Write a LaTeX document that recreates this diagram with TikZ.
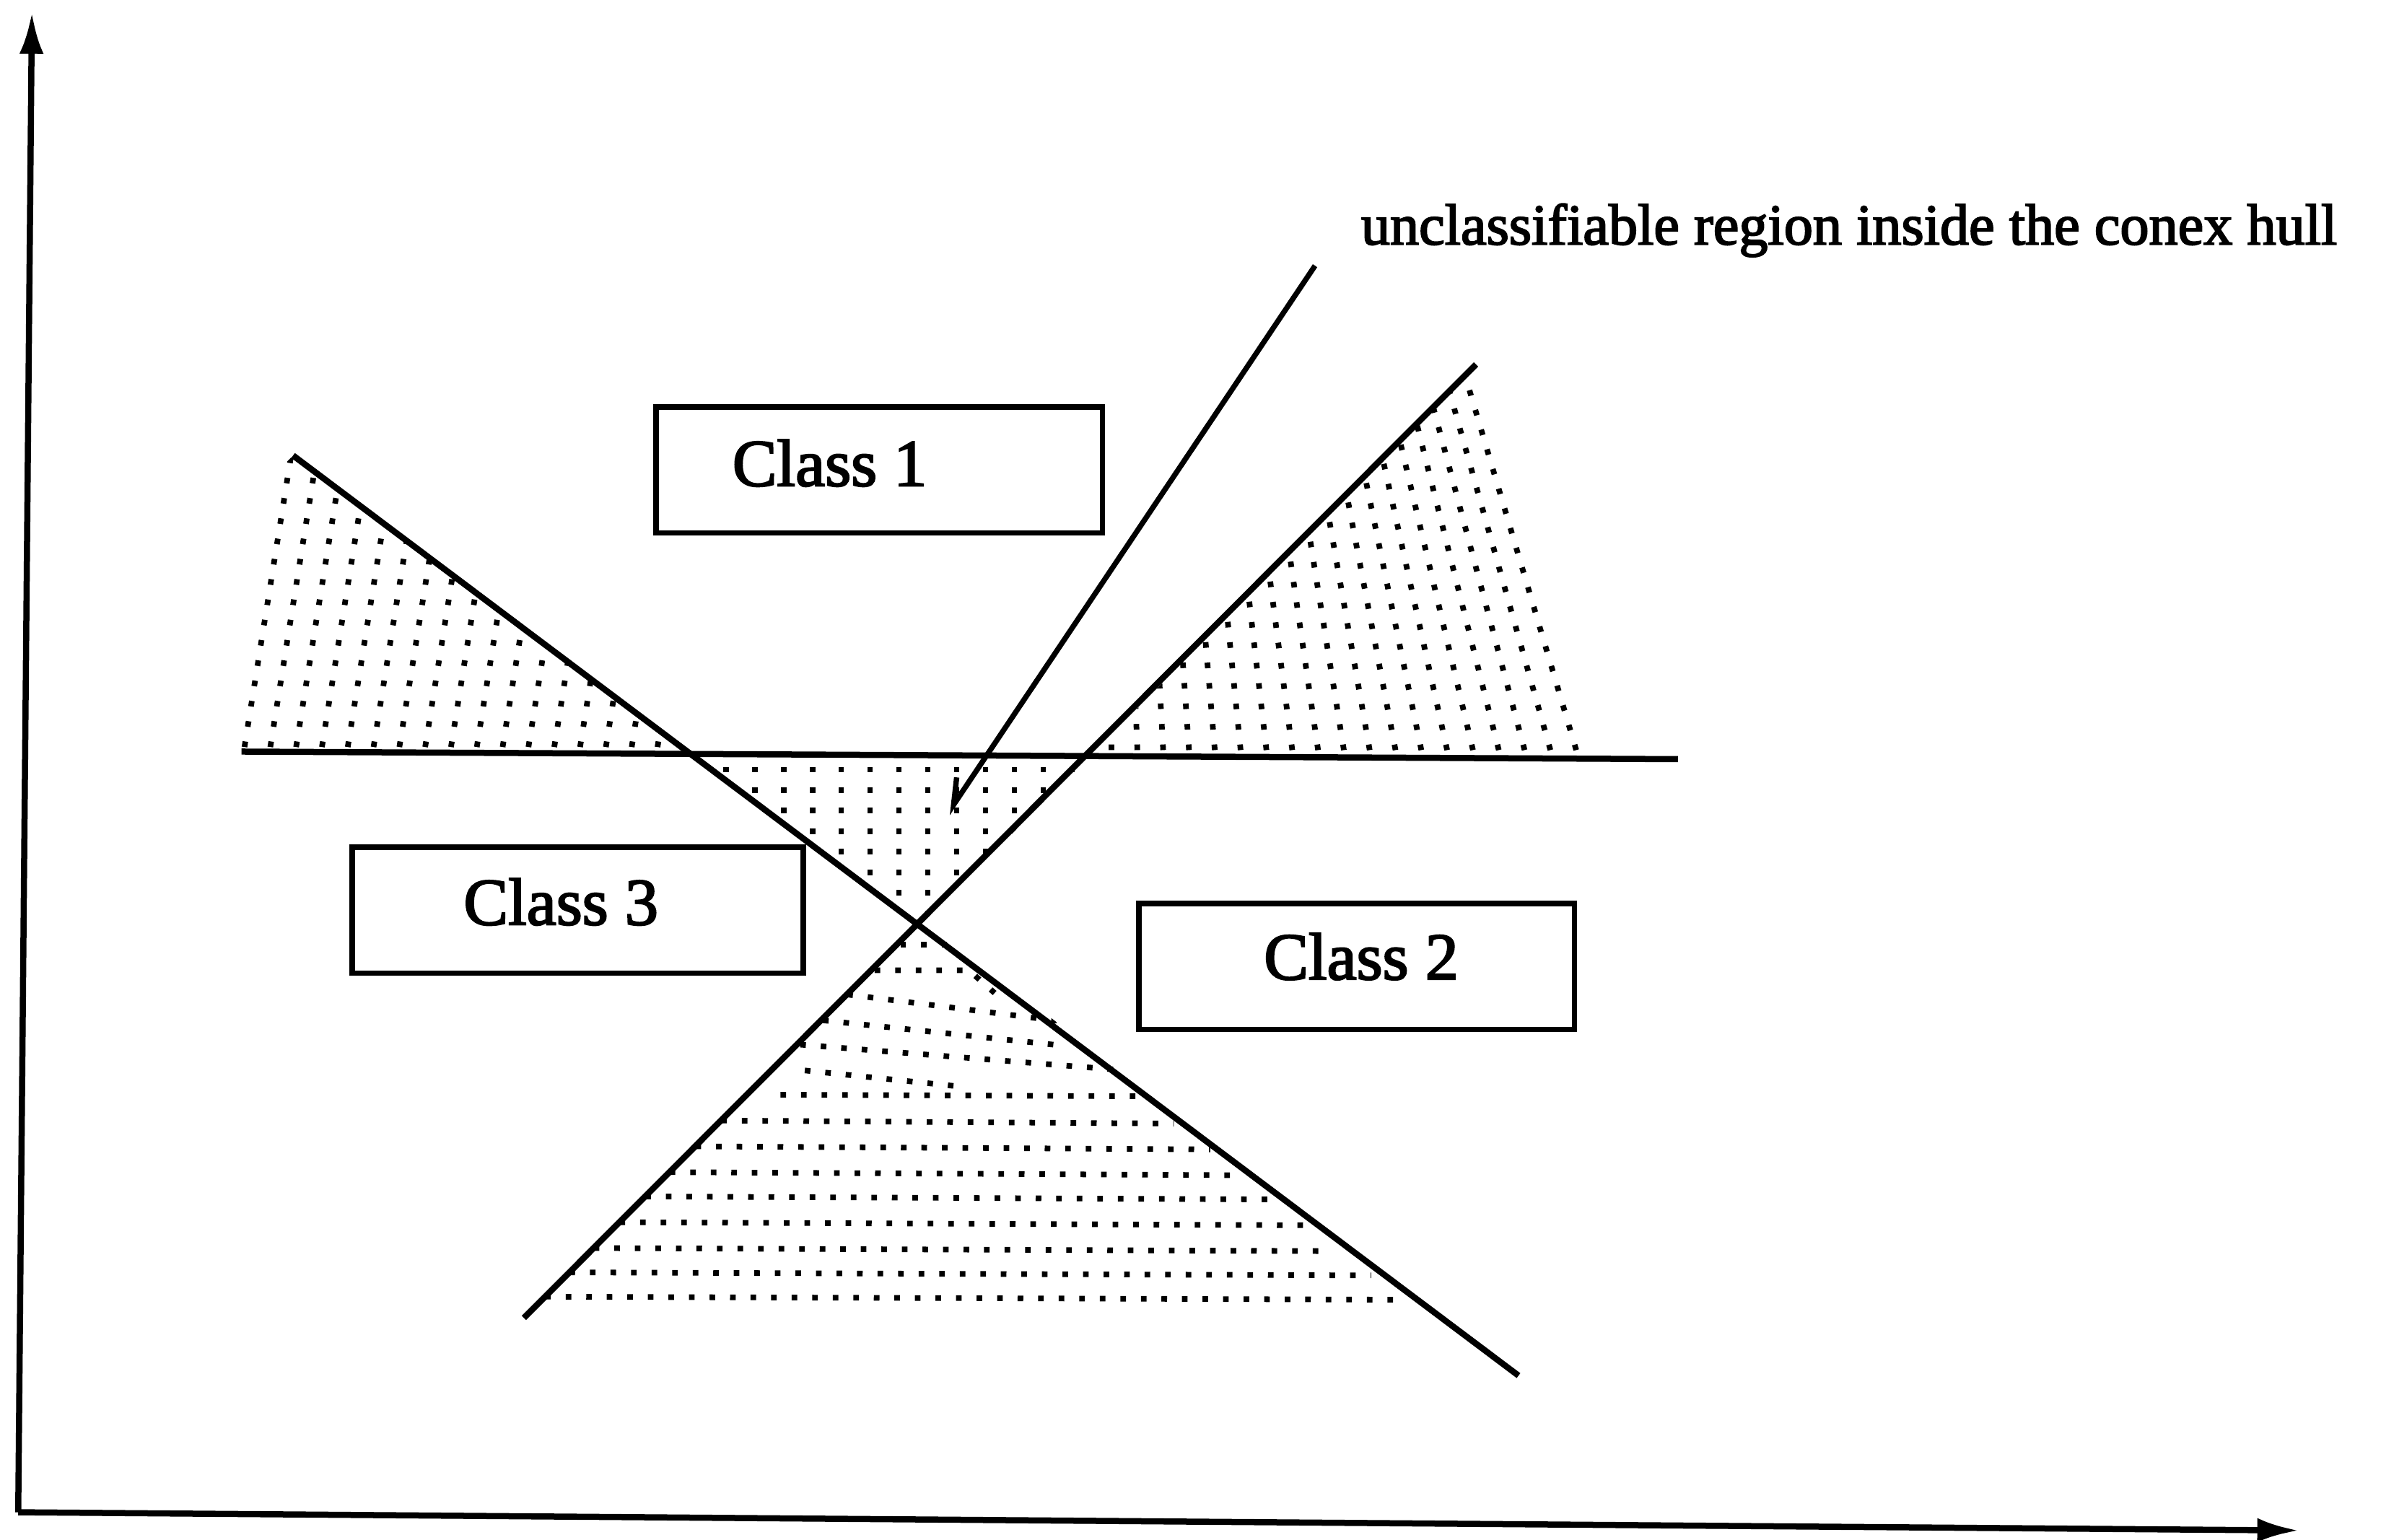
\documentclass[tikz,border=0pt]{standalone}
\usepackage{fontspec}
\setmainfont{Liberation Serif}
\newfontfamily\scanfont[FakeBold=2.5]{Liberation Serif}
\usetikzlibrary{arrows.meta}
\begin{document}
\begin{tikzpicture}[x=0.02cm,y=-0.02cm,
  axisline/.style={line width=2.3pt, -{Latex[length=0.55cm,width=0.32cm]}},
  boundary/.style={line width=2.3pt},
  pointer/.style={line width=2pt, line join=miter},
  classbox/.style={draw, line width=2pt, minimum height=1.66cm, inner sep=0pt},
  classlabel/.style={font=\scanfont\fontsize{25}{30}\selectfont, anchor=base west, inner sep=0pt},
  notelabel/.style={font=\scanfont\fontsize{21.7}{26}\selectfont, anchor=base west, inner sep=0pt},
  hatchdots/.style={line width=2.1pt, dash pattern=on 2.1pt off 5.6pt},
]
\useasboundingbox (0,0) rectangle (1568,1014);

% named points
\coordinate (O) at (12,996);
\coordinate (Ytip) at (21,8);
\coordinate (Xtip) at (1514,1008);
\coordinate (H1) at (159,495);
\coordinate (H2) at (1105,500);
\coordinate (A1) at (193,300);
\coordinate (A2) at (1000,906);
\coordinate (B1) at (345,868);
\coordinate (B2) at (972,240);
\coordinate (P1) at (866,175);
\coordinate (P2) at (628,530);
\coordinate (P3) at (630,512);

% ---------- hatching ----------
% left region
\begin{scope}
\clip (156,497) -- (189,304) -- (193,300) -- (457,498) -- cycle;
\foreach \xb in {161,178,...,460} \draw[hatchdots] (\xb,492) -- ++(48,-300);
\end{scope}
% middle (unclassifiable) region
\begin{scope}
\clip (457,497) -- (718,499) -- (608,606) -- cycle;
\foreach \xb in {478,497,...,712} \draw[hatchdots] (\xb,505) -- (\xb,620);
\end{scope}
% right region
\begin{scope}
\clip (716,500) -- (972,240) -- (977,242) -- (1058,499) -- cycle;
\foreach \xb in {732,749,...,1052} {
  \pgfmathsetmacro{\xt}{\xb-(\xb-704)*0.26643}
  \draw[hatchdots] (\xb,494) -- (\xt,194);
}
\end{scope}
% bottom region
\begin{scope}
\clip (608,606) -- (345,868) -- (1000,906) -- cycle;
\draw[hatchdots] (593,622) -- (632,622);
\draw[hatchdots] (576,639) -- (638,639) -- (655,654);
\draw[hatchdots] (558,655) -- (702,673);
\draw[hatchdots] (542,672) -- (703,689);
\draw[hatchdots] (527,688) -- (742,705);
\draw[hatchdots] (530,705) -- (636,716);
\draw[hatchdots] (514,721) -- (748,722);
\draw[hatchdots] (475,738) -- (773,740);
\draw[hatchdots] (458,755) -- (797,757);
\draw[hatchdots] (441,772) -- (811,774);
\draw[hatchdots] (425,788) -- (846,790);
\draw[hatchdots] (408,805) -- (872,807);
\draw[hatchdots] (391,822) -- (874,824);
\draw[hatchdots] (375,838) -- (903,840);
\draw[hatchdots] (359,854) -- (919,856);
\end{scope}

% ---------- axes ----------
\draw[axisline] (O) -- (Ytip);
\draw[axisline] (O) -- (Xtip);

% ---------- boundaries ----------
\draw[boundary] (H1) -- (H2);
\draw[boundary] (A1) -- (A2);
\draw[boundary] (B1) -- (B2);

% ---------- pointer ----------
\draw[pointer] (P1) -- (P2) -- (P3);

% ---------- boxes and labels ----------
\node[classbox, minimum width=5.88cm] (box1) at (579,309.5) {};
\node[classlabel] (lab1) at (482,320) {Class 1};
\node[classbox, minimum width=5.94cm] (box3) at (380.5,599.5) {};
\node[classlabel] (lab3) at (305,609) {Class 3};
\node[classbox, minimum width=5.74cm] (box2) at (893.5,636.5) {};
\node[classlabel] (lab2) at (832,645) {Class 2};

\node[notelabel] (note) at (896,161) {unclassifiable region inside the conex hull};
\end{tikzpicture}
\end{document}
